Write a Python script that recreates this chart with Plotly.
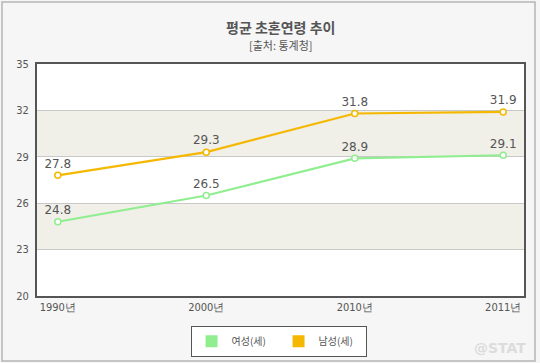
import plotly.graph_objects as go

years = ["1990년", "2000년", "2010년", "2011년"]
female = [24.8, 26.5, 28.9, 29.1]
male = [27.8, 29.3, 31.8, 31.9]
y_ticks = [20, 23, 26, 29, 32, 35]

green = "#90ee90"
orange = "#f5b800"
font_family = "Noto Sans CJK KR, Noto Sans, sans-serif"
fig = go.Figure()

xi = list(range(len(years)))
for name, vals, col in [("여성(세)", female, green), ("남성(세)", male, orange)]:
    fig.add_trace(go.Scatter(
        x=xi, y=vals, name=name, mode="lines+markers+text", showlegend=False,
        line=dict(color=col, width=2.2),
        marker=dict(symbol="circle", size=6, color="white", line=dict(color=col, width=1.5)),
        text=[f"{v:.1f}" for v in vals], textposition="top center",
        textfont=dict(color="#555555", size=12, family="DejaVu Sans"),
        cliponaxis=False,
    ))
    # legend entry with square swatch
    fig.add_trace(go.Scatter(
        x=[None], y=[None], name=name, mode="markers",
        marker=dict(symbol="square", size=8, color=col),
    ))

# alternating bands
for lo, hi in [(23, 26), (29, 32)]:
    fig.add_shape(type="rect", xref="paper", yref="y", x0=0, x1=1, y0=lo, y1=hi,
                  fillcolor="#f0efe8", line=dict(width=0), layer="below")

# outer frame
fig.add_shape(type="rect", xref="paper", yref="paper", x0=-0.0719, x1=1.0226, y0=-0.280, y1=1.267,
              line=dict(color="#b5b5b5", width=1.5), fillcolor="rgba(0,0,0,0)", layer="below")

fig.update_layout(
    width=540, height=363,
    margin=dict(l=37, r=16, t=64, b=67, autoexpand=False),
    paper_bgcolor="#f6f6f6", plot_bgcolor="white",
    font=dict(family=font_family, color="#555555"),
    showlegend=True,
    legend=dict(orientation="h", x=0.496, xanchor="center", y=-0.128, yanchor="top",
                bordercolor="#555555", borderwidth=1, bgcolor="white",
                font=dict(size=10, color="#555555"), itemwidth=30, traceorder="normal",
                entrywidth=42, itemsizing="constant", tracegroupgap=0),
    xaxis=dict(range=[-0.14, 3.14], tickvals=xi, ticktext=years, showgrid=False,
               zeroline=False, showline=True, linecolor="#555555", linewidth=2, mirror=True,
               tickfont=dict(size=11, family="DejaVu Sans Condensed, sans-serif", color="#555555"),
               automargin=False),
    yaxis=dict(range=[20, 35], tickvals=y_ticks, showgrid=True, gridcolor="#c8c8c8", gridwidth=1,
               zeroline=False, showline=True, linecolor="#555555", linewidth=2, mirror=True,
               tickfont=dict(size=11, family="DejaVu Sans Condensed, sans-serif", color="#555555"),
               ticklabelstandoff=4, automargin=False),
    annotations=[
        dict(text="<b>평균 초혼연령 추이</b>", xref="paper", yref="paper", x=0.5, y=1.159,
             xanchor="center", yanchor="middle", showarrow=False,
             font=dict(size=14, color="#555555", family=font_family)),
        dict(text="[출처: 통계청]", xref="paper", yref="paper", x=0.5, y=1.082,
             xanchor="center", yanchor="middle", showarrow=False,
             font=dict(size=11, color="#555555", family=font_family)),
        dict(text="<b>@STAT</b>", xref="paper", yref="paper", x=1.008, y=-0.224,
             xanchor="right", yanchor="middle", showarrow=False,
             font=dict(size=14, color="#dcdcdc", family="DejaVu Sans")),
    ],
)

fig.write_html("out.html", config={"displayModeBar": False},
               post_script="document.body.style.margin='0';document.body.style.padding='0';document.body.style.background='#f6f6f6';")
